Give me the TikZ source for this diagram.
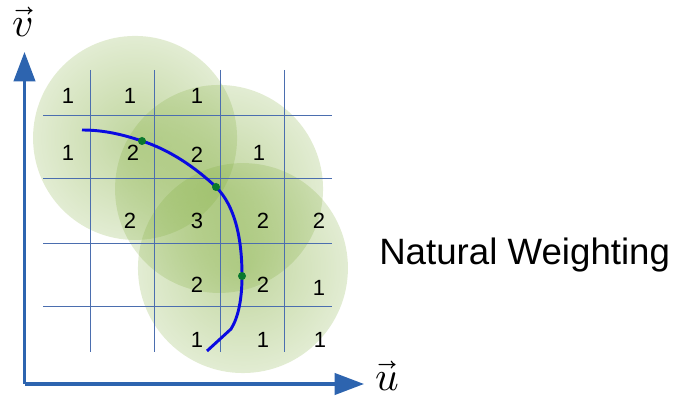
\documentclass[tikz,border=0pt]{standalone}
\usepackage{fontspec}
\setmainfont{Liberation Sans}
\usepackage{unicode-math}
\setmathfont{Latin Modern Math}
\usetikzlibrary{fadings,arrows.meta}
\definecolor{gridblue}{RGB}{75,110,175}
\definecolor{axisblue}{RGB}{45,100,175}
\definecolor{discgreen}{RGB}{125,170,55}
\definecolor{dotgreen}{RGB}{10,120,45}
\definecolor{curveblue}{RGB}{10,10,225}
\tikzfading[name=softdisc, inner color=transparent!52, outer color=transparent!100]
\begin{document}
\begin{tikzpicture}[x=0.75pt,y=-0.75pt,
  disc/.style={fill=discgreen, path fading=softdisc, fading transform={scale=1.85}},
  gridline/.style={draw=gridblue, line width=0.75pt},
  axis/.style={draw=axisblue, line width=2.3pt, -{Triangle[length=22pt,width=16pt]}},
  num/.style={font=\fontsize{16.5}{18}\selectfont, inner sep=0pt},
  dotmark/.style={fill=dotgreen, circle, inner sep=0pt, minimum size=6pt},
  vlabel/.style={font=\fontsize{31}{33}\selectfont, inner sep=0pt, anchor=base}]
\useasboundingbox (0,0) rectangle (677,398);
% soft discs
\fill[disc] (135,138) circle (102);
\fill[disc] (219,189) circle (104);
\fill[disc] (243,268) circle (105);
% grid
\foreach \x in {90,154,220,284} \draw[gridline] (\x,70) -- (\x,352);
\foreach \y in {116,179,244,307} \draw[gridline] (43,\y) -- (332,\y);
% axes
\coordinate (o) at (24.5,384);
\coordinate (vt) at (24.5,52);
\coordinate (ut) at (364,384);
\draw[axis] (o) -- (vt);
\draw[axis] (o) -- (ut);
\node[vlabel] (vl) at (23,37) {$\vec{v}$};
\node[vlabel] (ul) at (387,390) {$\vec{u}$};
% numbers
\node[num] (n11) at (68,96) {1};
\node[num] (n12) at (130,96) {1};
\node[num] (n13) at (197,96) {1};
\node[num] (n21) at (68,153) {1};
\node[num] (n22) at (133,153) {2};
\node[num] (n23) at (197,155) {2};
\node[num] (n24) at (259,153) {1};
\node[num] (n32) at (130,221) {2};
\node[num] (n33) at (197,221) {3};
\node[num] (n34) at (263,221) {2};
\node[num] (n35) at (319,221) {2};
\node[num] (n43) at (197,285) {2};
\node[num] (n44) at (263,285) {2};
\node[num] (n45) at (319,288) {1};
\node[num] (n53) at (197,340) {1};
\node[num] (n54) at (263,340) {1};
\node[num] (n55) at (320,340) {1};
% curve
\coordinate (c0) at (82,130);
\coordinate (d1) at (142,141);
\coordinate (d2) at (216,187);
\coordinate (d3) at (242,276);
\coordinate (c1) at (231,329);
\coordinate (c2) at (207,351);
\draw[curveblue, line width=2.2pt]
  (c0) .. controls (105,130) and (124,135) .. (d1)
       .. controls (170,150) and (196,168) .. (d2)
       .. controls (235,206) and (242,238) .. (d3)
       .. controls (242,300) and (238,318) .. (c1) -- (c2);
\node[dotmark] (m1) at (d1) {};
\node[dotmark] (m2) at (d2) {};
\node[dotmark] (m3) at (d3) {};
% title
\node[anchor=base west, inner sep=0pt, font=\fontsize{27.5}{30}\selectfont] (title) at (379,265) {Natural Weighting};
\end{tikzpicture}
\end{document}
